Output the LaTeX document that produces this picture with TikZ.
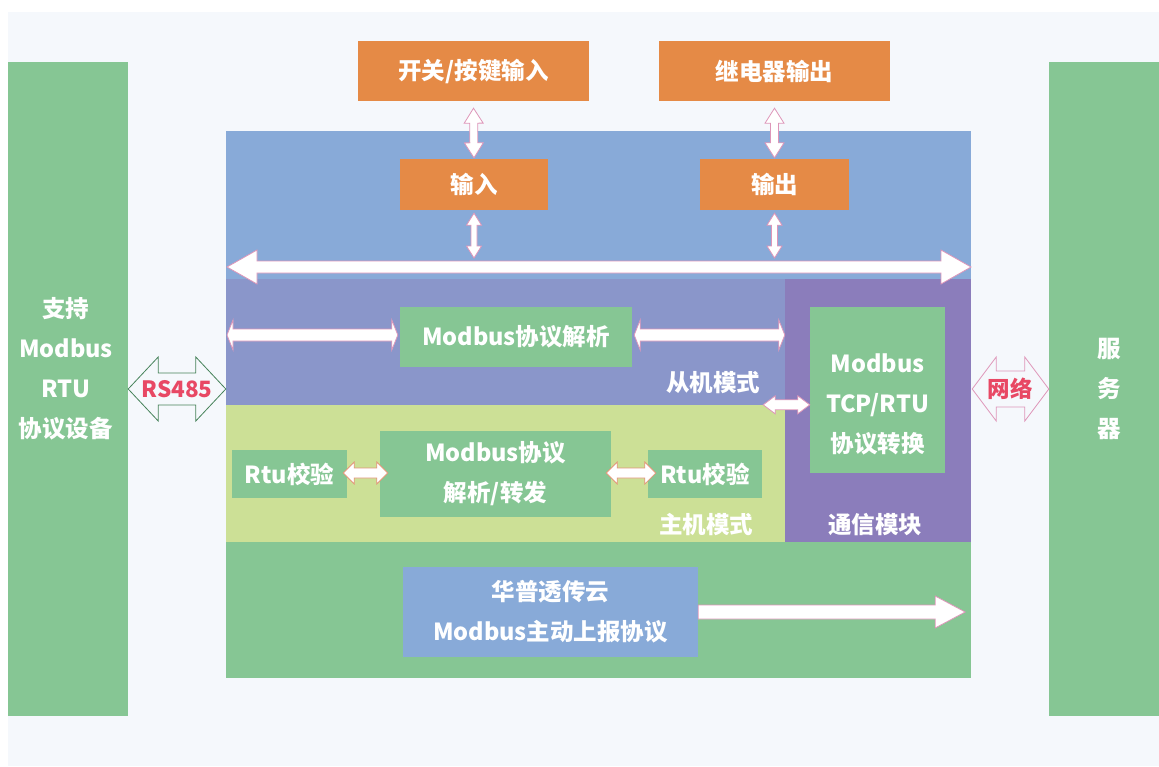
\documentclass[tikz,border=0pt]{standalone}
\usepackage{fontspec}
\setmainfont{Noto Sans CJK SC}
\usetikzlibrary{calc,fit,positioning}

\definecolor{paper}{RGB}{245,248,252}
\definecolor{boxgreen}{RGB}{134,198,148}
\definecolor{iobg}{RGB}{136,170,216}
\definecolor{slavebg}{RGB}{138,150,202}
\definecolor{masterbg}{RGB}{204,224,150}
\definecolor{commbg}{RGB}{139,125,187}
\definecolor{boxorange}{RGB}{229,138,70}
\definecolor{linkpink}{RGB}{222,150,185}
\definecolor{linkorange}{RGB}{226,150,120}
\definecolor{netred}{RGB}{232,72,100}
\definecolor{rsgreen}{RGB}{70,130,90}

\newcommand{\boxfont}{\fontsize{23.5}{40}\selectfont\bfseries}
\newcommand{\portfont}{\fontsize{22.5}{40}\selectfont\bfseries}

% double block arrow: [style]{from}{to}{shaft half}{head half}{head length}
\newcommand{\dblarrow}[6][]{%
  \coordinate (ta) at (#2);
  \coordinate (tb) at (#3);
  \coordinate (ha) at ($(ta)!#6!(tb)$);
  \coordinate (hb) at ($(tb)!#6!(ta)$);
  \draw[#1] (ta) -- ($(ha)!#5!90:(tb)$) -- ($(ha)!#4!90:(tb)$)
    -- ($(hb)!#4!-90:(ta)$) -- ($(hb)!#5!-90:(ta)$) -- (tb)
    -- ($(hb)!#5!90:(ta)$) -- ($(hb)!#4!90:(ta)$)
    -- ($(ha)!#4!-90:(tb)$) -- ($(ha)!#5!-90:(tb)$) -- cycle;
}
% single block arrow
\newcommand{\onearrow}[6][]{%
  \coordinate (ta) at (#2);
  \coordinate (tb) at (#3);
  \coordinate (hb) at ($(tb)!#6!(ta)$);
  \draw[#1] ($(ta)!#4!90:(tb)$) -- ($(hb)!#4!-90:(ta)$) -- ($(hb)!#5!-90:(ta)$) -- (tb)
    -- ($(hb)!#5!90:(ta)$) -- ($(hb)!#4!90:(ta)$) -- ($(ta)!#4!-90:(tb)$) -- cycle;
}

\begin{document}
\begin{tikzpicture}[x=1pt, y=-1pt,
    area/.style={fill=#1, inner sep=0pt},
    box/.style={fill=#1, text=white, font=\boxfont, align=center, inner sep=0pt},
    tag/.style={text=white, font=\boxfont, align=center},
    link/.style={fill=white, draw=linkpink, line width=0.8pt},
    rtulink/.style={fill=white, draw=linkorange, line width=0.8pt},
    port/.style={fill=paper, draw=#1, line width=0.8pt},
    portlbl/.style={text=netred, font=\portfont}]

  % background
  \fill[white] (0,0) rectangle (1159,766);
  \fill[paper] (8,12) rectangle (1159,766);

  % field device and server
  \node[area=boxgreen, fit={(8,62) (128,716)}] (dev) {};
  \node[area=boxgreen, fit={(1049,62) (1159,716)}] (srv) {};
  \node[tag] at (66,369) {支持\\Modbus\\RTU\\协议设备};
  \node[tag] at (1109,389) {服\\务\\器};

  % gateway areas
  \node[area=iobg, fit={(226,131) (971,279)}] (top) {};
  \node[area=slavebg, fit={(226,279) (785,405)}] (slave) {};
  \node[area=masterbg, fit={(226,405) (785,542)}] (master) {};
  \node[area=commbg, fit={(785,279) (971,542)}] (comm) {};
  \node[area=boxgreen, fit={(226,542) (971,678)}] (report) {};

  % boxes
  \node[box=boxorange, minimum width=231, minimum height=60] (sw) at (473.5,71) {开关/按键输入};
  \node[box=boxorange, minimum width=231, minimum height=60] (relay) at (774.5,71) {继电器输出};
  \node[box=boxorange, minimum width=148, minimum height=51] (in) at (474,184.5) {输入};
  \node[box=boxorange, minimum width=149, minimum height=51] (out) at (774.5,184.5) {输出};
  \node[box=boxgreen, minimum width=232, minimum height=60] (parse) at (516,337) {Modbus协议解析};
  \node[box=boxgreen, minimum width=135, minimum height=166] (tcp) at (877.5,390) {};
  \node[tag] at ($(tcp)+(0,14)$) {Modbus\\TCP/RTU\\协议转换};
  \node[box=boxgreen, minimum width=115, minimum height=48] (rtuL) at (289.5,474) {Rtu校验};
  \node[box=boxgreen, minimum width=231, minimum height=86] (fwd) at (495.5,474) {Modbus协议\\解析/转发};
  \node[box=boxgreen, minimum width=114, minimum height=48] (rtuR) at (705,474) {Rtu校验};
  \node[box=iobg, minimum width=295, minimum height=90] (cloud) at (550.5,612) {华普透传云\\Modbus主动上报协议};

  \node[tag] at (713,383) {从机模式};
  \node[tag] at (706,525) {主机模式};
  \node[tag] at (875,525) {通信模块};

  % connectors
  \dblarrow[link]{227,267}{971,267}{6pt}{17pt}{30pt}
  \dblarrow[link]{$(sw.south)+(0,7)$}{$(in.north)+(0,-1)$}{4pt}{9.5pt}{15pt}
  \dblarrow[link]{$(in.south)+(0,3)$}{$(in.south |- 0,267)+(0,-9)$}{3pt}{7.5pt}{12pt}
  \dblarrow[link]{$(relay.south)+(0,7)$}{$(out.north)+(0,-1)$}{4pt}{9.5pt}{15pt}
  \dblarrow[link]{$(out.south)+(0,3)$}{$(out.south |- 0,267)+(0,-9)$}{3pt}{7.5pt}{12pt}
  \dblarrow[link]{227,335}{$(parse.west)+(-2,-2)$}{6pt}{15pt}{6pt}
  \dblarrow[link]{$(parse.east)+(2,-2)$}{$(comm.west |- parse.east)+(0,-2)$}{6pt}{15pt}{6pt}
  \dblarrow[link]{$(master.north east)+(-22,0)$}{tcp.west |- master.north}{5pt}{9pt}{12pt}
  \dblarrow[rtulink]{$(rtuL.east)+(-4,-1)$}{$(fwd.west)+(8,-1)$}{5pt}{11pt}{11pt}
  \dblarrow[rtulink]{$(fwd.east)+(-5,-1)$}{$(rtuR.west)+(8,-1)$}{5pt}{11pt}{11pt}
  \onearrow[link]{cloud.east}{$(cloud.east -| report.east)+(-6,0)$}{7pt}{16pt}{30pt}

  \dblarrow[port=rsgreen]{dev.east}{top.west |- dev.east}{16pt}{32pt}{30pt}
  \node[portlbl] at ($(dev.east)!0.5!(top.west |- dev.east)$) {RS485};
  \dblarrow[port=linkpink]{$(top.east |- srv.west)+(1,0)$}{srv.west}{18pt}{32pt}{24pt}
  \node[portlbl] at ($(top.east |- srv.west)!0.5!(srv.west)$) {网络};
\end{tikzpicture}
\end{document}
